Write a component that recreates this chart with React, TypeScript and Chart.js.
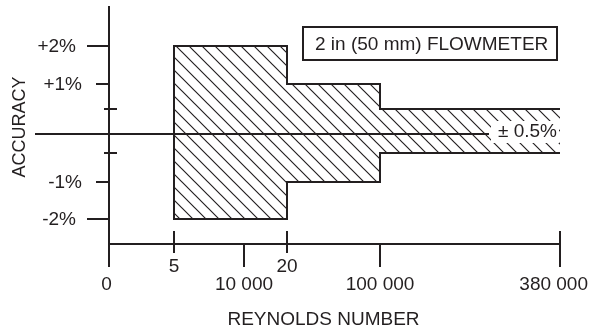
import React, { useEffect, useRef } from 'react';
import { Chart, registerables, LinearScale } from 'chart.js';

Chart.register(...registerables);

// ---------- data ----------
const reynoldsSteps = [5000, 20000, 100000, 380000];
const upperLimit = [2, 1, 0.5, 0.5];
const lowerLimit = [-2, -1, -0.5, -0.5];

const xTickValues = [0, 5000, 10000, 20000, 100000, 380000];
const xTickLabels = ['0', '5', '10 000', '20', '100 000', '380 000'];
const yTickValues = [2, 1, 0.5, -0.5, -1, -2];
const yTickLabels = ['+2%', '+1%', '', '', '-1%', '-2%'];

const titleText = '2 in (50 mm) FLOWMETER';
const bandLabel = '± 0.5%';
const xTitle = 'REYNOLDS NUMBER';
const yTitle = 'ACCURACY';

// ---------- styling / layout ----------
const INK = '#231f20';
const FONT = '"Liberation Sans", Arial, Helvetica, sans-serif';

// non-uniform axis layout of the original drawing: [value, relative position]
const X_BREAKS = [[0, 0], [5000, 65 / 451], [10000, 135 / 451], [20000, 178 / 451], [100000, 271 / 451], [380000, 1]];
const Y_BREAKS = [[-2.7, 0], [-2, 25 / 238], [-1, 62 / 238], [-0.5, 91 / 238], [0, 110 / 238], [0.5, 135 / 238], [1, 160 / 238], [2, 198 / 238], [3.05, 1]];

function interp(table: number[][], v: number, from: number, to: number) {
  const n = table.length;
  let i = 0;
  while (i < n - 2 && v > table[i + 1][from]) i++;
  const a = table[i], b = table[i + 1];
  const t = (v - a[from]) / (b[from] - a[from]);
  return a[to] + t * (b[to] - a[to]);
}

class PiecewiseScale extends LinearScale {
  static id = 'piecewise';
  static defaults = LinearScale.defaults;
  breaksTable() {
    return (this as any).axis === 'x' ? X_BREAKS : Y_BREAKS;
  }
  getPixelForValue(value: number) {
    const f = interp(this.breaksTable(), value, 0, 1);
    return this.isHorizontal() ? this.left + f * this.width : this.bottom - f * this.height;
  }
  getValueForPixel(pixel: number) {
    const f = this.isHorizontal() ? (pixel - this.left) / this.width : (this.bottom - pixel) / this.height;
    return interp(this.breaksTable(), f, 1, 0);
  }
}
Chart.register(PiecewiseScale as any);

function makeHatch(): CanvasPattern | string {
  const size = 13;
  const c = document.createElement('canvas');
  c.width = size;
  c.height = size;
  const g = c.getContext('2d');
  if (!g) return 'rgba(0,0,0,0.2)';
  g.strokeStyle = INK;
  g.lineWidth = 1.15;
  g.beginPath();
  for (const off of [-size, 0, size]) {
    g.moveTo(off - 2, -2);
    g.lineTo(off + size + 2, size + 2);
  }
  g.stroke();
  const p = g.createPattern(c, 'repeat');
  return p || 'rgba(0,0,0,0.2)';
}

// y tick styles keyed by |value|: [left length, right length, label right offset from axis]
const Y_TICK_STYLE: Record<string, number[]> = { '2': [22, 0, 33], '1': [13, 0, 27], '0.5': [5, 8, 0] };
// x tick styles by index: [up length, down length, label row]
const X_TICK_STYLE = [[0, 23, 1], [13, 9, 0], [0, 23, 1], [13, 9, 0], [0, 23, 1], [13, 23, 1]];

const decorPlugin = {
  id: 'decor',
  afterDatasetsDraw(chart: any) {
    const { ctx } = chart;
    const xs = chart.scales.x;
    const ys = chart.scales.y;
    const x0 = xs.getPixelForValue(0);
    const xEnd = xs.getPixelForValue(xTickValues[xTickValues.length - 1]);
    const axisY = ys.bottom;
    const y0 = ys.getPixelForValue(0);
    const last = reynoldsSteps.length - 1;

    const seg = (ax: number, ay: number, bx: number, by: number) => {
      ctx.beginPath();
      ctx.moveTo(ax, ay);
      ctx.lineTo(bx, by);
      ctx.stroke();
    };

    ctx.save();
    ctx.strokeStyle = INK;
    ctx.fillStyle = INK;
    ctx.lineWidth = 2;
    ctx.lineCap = 'butt';
    ctx.font = `19px ${FONT}`;

    // band label with white backing
    const bandMid = (ys.getPixelForValue(upperLimit[last]) + ys.getPixelForValue(lowerLimit[last])) / 2;
    const labelRight = xEnd - 3;
    const w = ctx.measureText(bandLabel).width;
    const boxLeft = labelRight - w - 7;
    ctx.fillStyle = '#ffffff';
    ctx.fillRect(boxLeft, bandMid - 10, labelRight + 2 - boxLeft, 22);
    ctx.fillStyle = INK;
    ctx.textAlign = 'right';
    ctx.textBaseline = 'middle';
    ctx.fillText(bandLabel, labelRight, bandMid + 1);

    // zero reference line
    seg(35, y0, boxLeft - 2, y0);

    // axes
    seg(x0, ys.top, x0, axisY + 23);
    seg(x0, axisY, xEnd, axisY);

    // y ticks + labels
    yTickValues.forEach((v, i) => {
      const py = ys.getPixelForValue(v);
      const st = Y_TICK_STYLE[String(Math.abs(v))];
      seg(x0 - st[0], py, x0 + st[1], py);
      if (yTickLabels[i]) {
        ctx.textAlign = 'right';
        ctx.textBaseline = 'middle';
        ctx.fillText(yTickLabels[i], x0 - st[2], py + 1);
      }
    });

    // x ticks + labels
    xTickValues.forEach((v, i) => {
      const px = xs.getPixelForValue(v);
      const st = X_TICK_STYLE[i];
      if (i > 0) seg(px, axisY - st[0], px, axisY + st[1]);
      const label = xTickLabels[i];
      const lw = ctx.measureText(label).width;
      let cx = px;
      if (cx + lw / 2 > chart.width - 8) cx = chart.width - 8 - lw / 2;
      if (i === 0) cx = px - 2.5;
      ctx.textAlign = 'center';
      ctx.textBaseline = 'middle';
      ctx.fillText(label, cx, axisY + (st[2] === 0 ? 23 : 41));
    });

    // axis titles
    ctx.textAlign = 'center';
    ctx.textBaseline = 'middle';
    ctx.fillText(xTitle, 323.5, 319.5);
    ctx.save();
    ctx.translate(19, 127);
    ctx.rotate(-Math.PI / 2);
    ctx.font = `18px ${FONT}`;
    ctx.fillText(yTitle, 0, 1);
    ctx.restore();

    // title box
    ctx.strokeRect(303, 27, 254, 33);
    ctx.textAlign = 'left';
    ctx.fillText(titleText, 315, 45);

    ctx.restore();
  },
};

export default function App() {
  const ref = useRef<HTMLCanvasElement>(null);

  useEffect(() => {
    const canvas = ref.current;
    if (!canvas) return;
    const hatch = makeHatch();
    const upperPts = reynoldsSteps.map((x, i) => ({ x, y: upperLimit[i] }));
    const lowerPts = reynoldsSteps.map((x, i) => ({ x, y: lowerLimit[i] }));
    const leftEdge = [
      { x: reynoldsSteps[0], y: lowerLimit[0] },
      { x: reynoldsSteps[0], y: upperLimit[0] },
    ];
    const lineBase = {
      showLine: true,
      pointRadius: 0,
      pointHoverRadius: 0,
      borderColor: INK,
      borderWidth: 2,
      borderCapStyle: 'square',
      borderJoinStyle: 'miter',
      tension: 0,
    };
    const chart = new Chart(canvas, {
      type: 'scatter',
      data: {
        datasets: [
          { ...lineBase, label: 'upper', data: upperPts, stepped: 'before', fill: '+1', backgroundColor: hatch },
          { ...lineBase, label: 'lower', data: lowerPts, stepped: 'before', fill: false },
          { ...lineBase, label: 'edge', data: leftEdge, fill: false },
        ],
      } as any,
      options: {
        responsive: false,
        maintainAspectRatio: false,
        devicePixelRatio: 1,
        animation: false,
        events: [],
        layout: { padding: { left: 109, right: 36, top: 6, bottom: 88 } },
        plugins: { legend: { display: false }, tooltip: { enabled: false }, title: { display: false } },
        scales: {
          x: { type: 'piecewise', display: false, min: 0, max: 380000 },
          y: { type: 'piecewise', display: false, min: -2.7, max: 3.05 },
        },
      } as any,
      plugins: [decorPlugin],
    });
    return () => chart.destroy();
  }, []);

  return (
    <div style={{ position: 'fixed', left: 0, top: 0, width: 596, height: 332, background: '#ffffff' }}>
      <canvas ref={ref} width={596} height={332} style={{ display: 'block', width: 596, height: 332 }} />
    </div>
  );
}
